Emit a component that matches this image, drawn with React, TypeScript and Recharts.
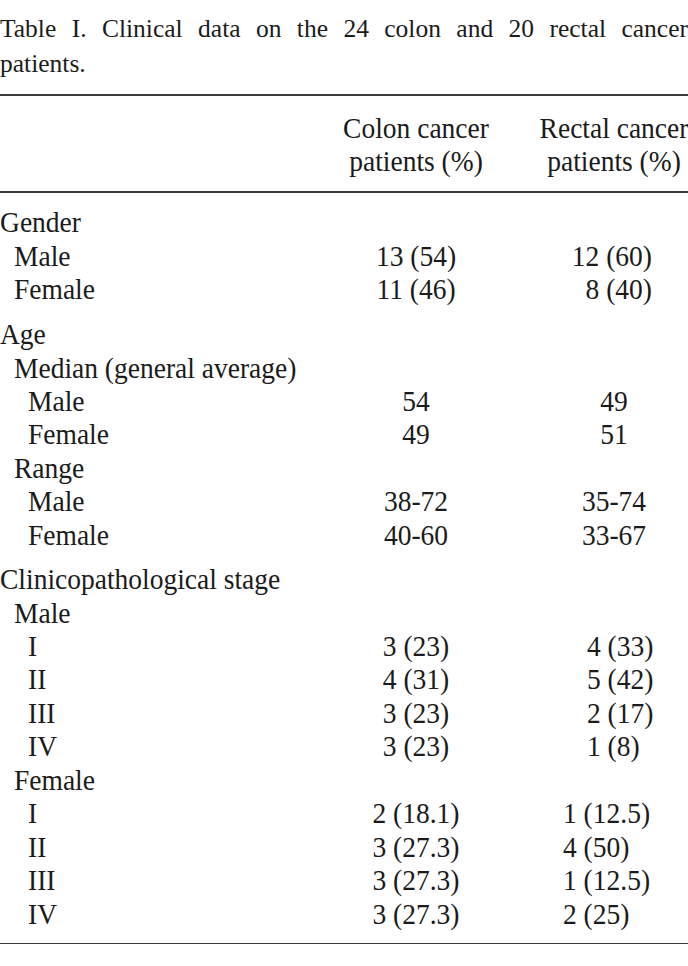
import React from "react";
import { ComposedChart, XAxis, YAxis } from "recharts";

// Table rows, grouped by section
const genderLabels = ["Gender", "Male", "Female"];
const genderLevels = [0, 1, 1];
const genderColon = ["", "13 (54)", "11 (46)"];
const genderRectal = ["", "12 (60)", "8 (40)"];

const ageLabels = ["Age", "Median (general average)", "Male", "Female", "Range", "Male", "Female"];
const ageLevels = [0, 1, 2, 2, 1, 2, 2];
const ageColon = ["", "", "54", "49", "", "38-72", "40-60"];
const ageRectal = ["", "", "49", "51", "", "35-74", "33-67"];

const stageLabels = ["Clinicopathological stage", "Male", "I", "II", "III", "IV", "Female", "I", "II", "III", "IV"];
const stageLevels = [0, 1, 2, 2, 2, 2, 1, 2, 2, 2, 2];
const stageColon = ["", "", "3 (23)", "4 (31)", "3 (23)", "3 (23)", "", "2 (18.1)", "3 (27.3)", "3 (27.3)", "3 (27.3)"];
const stageRectal = ["", "", "4 (33)", "5 (42)", "2 (17)", "1 (8)", "", "1 (12.5)", "4 (50)", "1 (12.5)", "2 (25)"];

const columnHeaders = [
  ["Colon cancer", "patients (%)"],
  ["Rectal cancer", "patients (%)"],
];
const titleLines = [
  "Table I. Clinical data on the 24 colon and 20 rectal cancer",
  "patients.",
];

const FONT = "'Liberation Serif', 'Times New Roman', serif";
const FS = 30;
const SX = 0.917; // glyphs in the scan are a bit narrow
const INK = "#1b1b1b";
const ROW = 33.45;
const W = 688;
const COL_X = [416, 614];

type Anchor = "start" | "middle" | "end";
type Row = { key: string; label: string; level: number; colon: string; rectal: string };
type Place = (i: number) => [number, Anchor];

const centered: Place = () => [COL_X[1], "middle"];

function buildRows(labels: string[], levels: number[], colon: string[], rectal: string[]): Row[] {
  return labels.map((label, i) => ({ key: String(i), label, level: levels[i], colon: colon[i], rectal: rectal[i] }));
}

function Txt({ x, y, anchor, children }: { x: number; y: number; anchor: Anchor; children: React.ReactNode }) {
  return (
    <text
      transform={`translate(${x},${y}) scale(${SX},1)`}
      textAnchor={anchor}
      dominantBaseline="central"
      fontFamily={FONT}
      fontSize={FS}
      fill={INK}
    >
      {children}
    </text>
  );
}

function RowTick(props: any) {
  const { y, payload, rows, place } = props;
  const i = Number(payload.value);
  const r: Row = rows[i];
  if (!r) return null;
  const [rx, ra] = (place as Place)(i);
  return (
    <g>
      <Txt x={r.level * 14} y={y} anchor="start">{r.label}</Txt>
      <Txt x={COL_X[0]} y={y} anchor="middle">{r.colon}</Txt>
      <Txt x={rx} y={y} anchor={ra}>{r.rectal}</Txt>
    </g>
  );
}

function Section({ rows, top, place = centered }: { rows: Row[]; top: number; place?: Place }) {
  return (
    <div style={{ position: "absolute", left: 0, top }}>
      <ComposedChart
        layout="vertical"
        width={W}
        height={rows.length * ROW}
        data={rows}
        margin={{ top: 0, right: 0, bottom: 0, left: 0 }}
      >
        <XAxis type="number" hide domain={[0, 1]} />
        <YAxis
          type="category"
          dataKey="key"
          width={300}
          interval={0}
          padding={{ top: ROW / 2, bottom: ROW / 2 }}
          axisLine={false}
          tickLine={false}
          tick={<RowTick rows={rows} place={place} />}
        />
      </ComposedChart>
    </div>
  );
}

const Rule = ({ y }: { y: number }) => (
  <div style={{ position: "absolute", left: 0, top: y, width: W, height: 1.5, background: "#3a3a3a" }} />
);

export default function App() {
  const gender = buildRows(genderLabels, genderLevels, genderColon, genderRectal);
  const age = buildRows(ageLabels, ageLevels, ageColon, ageRectal);
  const stage = buildRows(stageLabels, stageLevels, stageColon, stageRectal);
  const title: React.CSSProperties = {
    position: "absolute",
    left: 0,
    fontFamily: FONT,
    fontSize: 25.5,
    lineHeight: "26px",
    color: INK,
    whiteSpace: "nowrap",
  };

  return (
    <div style={{ position: "relative", width: W, height: 966, overflow: "hidden", background: "#fff" }}>
      <style>{"body{margin:0}"}</style>
      <div style={{ ...title, top: 16, width: W, whiteSpace: "normal", textAlign: "justify", textAlignLast: "justify" }}>
        {titleLines[0]}
      </div>
      <div style={{ ...title, top: 51 }}>{titleLines[1]}</div>

      <Rule y={94} />
      <svg width={W} height={100} style={{ position: "absolute", left: 0, top: 96 }}>
        {columnHeaders.map((h, i) => (
          <g key={i}>
            <Txt x={COL_X[i]} y={31.5} anchor="middle">{h[0]}</Txt>
            <Txt x={COL_X[i]} y={65} anchor="middle">{h[1]}</Txt>
          </g>
        ))}
      </svg>
      <Rule y={191} />

      <Section rows={gender} top={205.3} place={() => [652, "end"]} />
      <Section rows={age} top={316.7} />
      <Section rows={stage} top={561.8} place={(i) => (i < 6 ? [587, "start"] : [563, "start"])} />

      <Rule y={942.5} />
    </div>
  );
}
